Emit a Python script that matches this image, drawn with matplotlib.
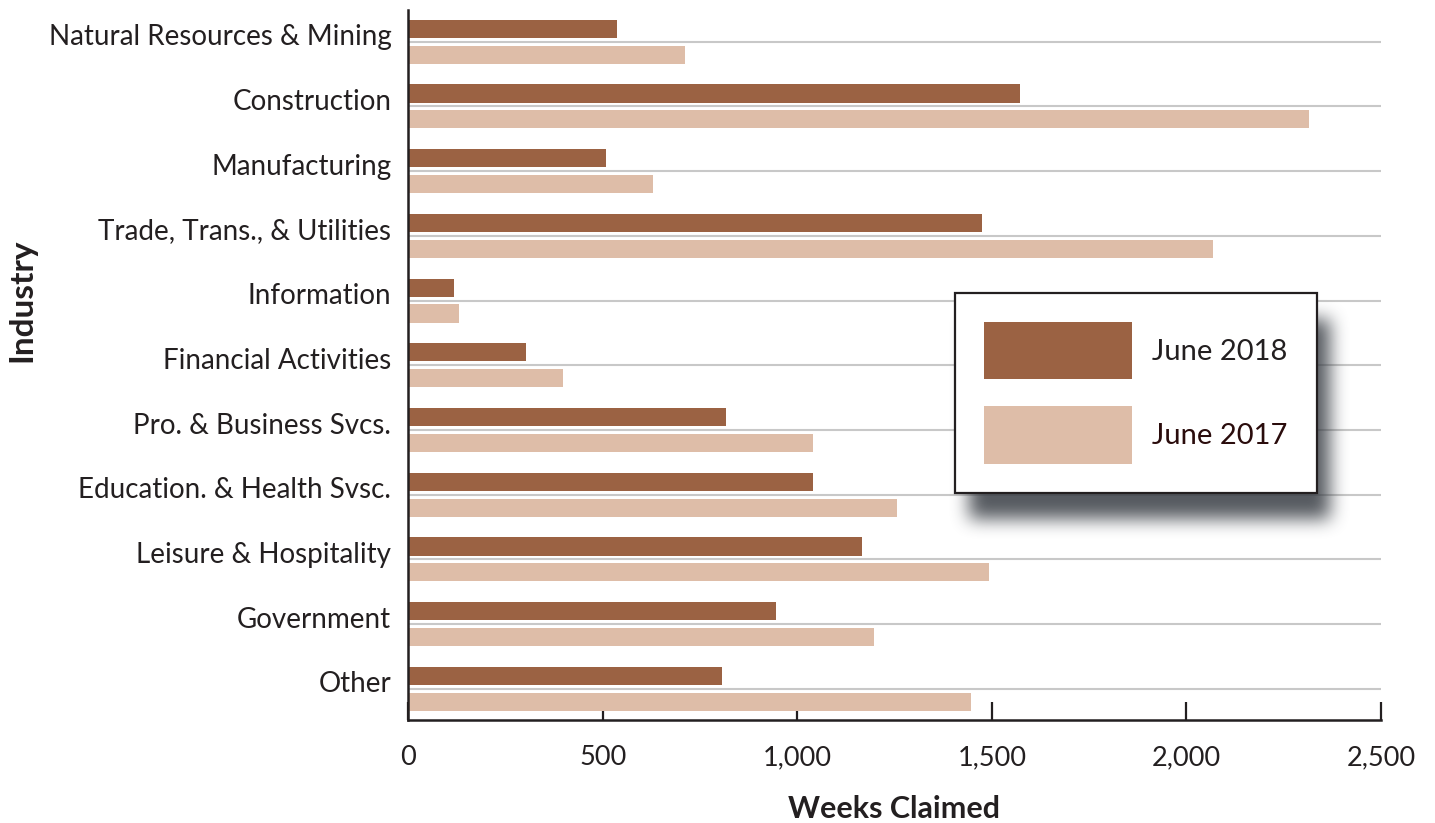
import numpy as np
import matplotlib
matplotlib.use('Agg')
import matplotlib.pyplot as plt
import matplotlib.transforms as mtransforms
from matplotlib.ticker import StrMethodFormatter
from matplotlib.patches import Patch

industries = ['Natural Resources & Mining', 'Construction', 'Manufacturing',
              'Trade, Trans., & Utilities', 'Information', 'Financial Activities',
              'Pro. & Business Svcs.', 'Education. & Health Svsc.',
              'Leisure & Hospitality', 'Government', 'Other']
june_2018 = [537, 1572, 509, 1475, 118, 303, 817, 1040, 1166, 945, 807]
june_2017 = [712, 2315, 630, 2068, 131, 398, 1040, 1256, 1493, 1197, 1446]
series_labels = ['June 2018', 'June 2017']

dark = '#9b6243'
light = '#debda8'
ink = '#231f20'

plt.rcParams['font.family'] = ['Lato', 'DejaVu Sans']

fig = plt.figure(figsize=(14.35, 8.23), dpi=100)
ax = fig.add_axes([408 / 1435, 1 - 720 / 823, (1381 - 408) / 1435, 710 / 823])

y = np.arange(len(industries))
ax.barh(y - 0.2, june_2018, height=0.28, color=dark, zorder=3)
ax.barh(y + 0.2, june_2017, height=0.28, color=light, zorder=3)

ax.set_xlim(0, 2500)
ax.set_ylim(10.48, -0.49)
ax.set_yticks(y)
ax.set_yticklabels(industries)
ax.set_xticks([0, 500, 1000, 1500, 2000, 2500])
ax.xaxis.set_major_formatter(StrMethodFormatter('{x:,.0f}'))

ax.set_axisbelow(True)
ax.yaxis.grid(True, color='#c8c8c8', linewidth=1.5)
ax.xaxis.grid(False)

for side in ['top', 'right']:
    ax.spines[side].set_visible(False)
for side in ['left', 'bottom']:
    ax.spines[side].set_color(ink)
    ax.spines[side].set_linewidth(1.8)
    ax.spines[side].set_zorder(4)

ax.tick_params(axis='y', length=0, pad=12, labelsize=20, labelcolor=ink)
ax.tick_params(axis='x', direction='in', length=13, width=1.6, color=ink,
               pad=18, labelsize=19.5, labelcolor=ink)
for t in ax.xaxis.get_major_ticks():
    t.tick1line.set_zorder(2)

# category names sit a little above their gridline
shift = mtransforms.ScaledTranslation(0, 7 / 100, fig.dpi_scale_trans)
for lab in ax.get_yticklabels():
    lab.set_transform(lab.get_transform() + shift)

ax.set_xlabel('Weeks Claimed', fontsize=22, fontweight='bold', color=ink, labelpad=18)
fig.text(22 / 1435, 1 - 300 / 823, 'Industry', rotation=90, fontsize=24,
         fontweight='bold', color=ink, ha='center', va='center')

handles = [Patch(facecolor=dark), Patch(facecolor=light)]
leg = fig.legend(handles, series_labels, loc='upper left',
                 bbox_to_anchor=(955 / 1435, 1 - 293 / 823), borderaxespad=0,
                 fontsize=21, handlelength=5.07, handleheight=2.64,
                 handletextpad=0.69, labelspacing=0.93, borderpad=1.0,
                 fancybox=False, edgecolor=ink, framealpha=1)
leg.get_frame().set_linewidth(1.6)
leg.get_texts()[0].set_color(ink)
leg.get_texts()[1].set_color('#2a0c0c')

# soft drop shadow behind the legend box
fig.canvas.draw()
bb = leg.get_window_extent()
pad = 70
x0 = int(bb.x0) - pad
y0 = int(bb.y0) - pad
w = int(bb.width) + 2 * pad
h = int(bb.height) + 2 * pad
mask = np.zeros((h, w))
sx, sy = 14, -26
mask[int(bb.y0 + sy - y0):int(bb.y1 + sy - y0), int(bb.x0 + sx - x0):int(bb.x1 + sx - x0)] = 1.0
k = np.ones(17) / 17
for _ in range(3):
    mask = np.apply_along_axis(lambda m: np.convolve(m, k, mode='same'), 0, mask)
    mask = np.apply_along_axis(lambda m: np.convolve(m, k, mode='same'), 1, mask)
shadow = np.zeros((h, w, 4))
shadow[..., 0] = 0.22
shadow[..., 1] = 0.24
shadow[..., 2] = 0.27
shadow[..., 3] = mask * 0.85
fig.figimage(shadow, xo=x0, yo=y0, origin='lower', zorder=4)

plt.savefig('out.png', dpi=100)
